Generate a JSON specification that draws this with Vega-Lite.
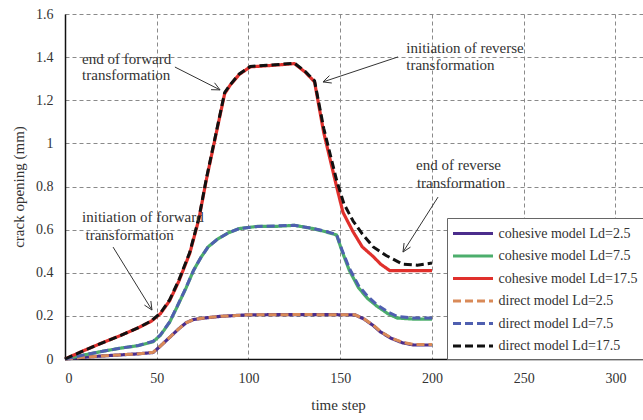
{
  "$schema": "https://vega.github.io/schema/vega-lite/v6.json",
  "width": 578,
  "height": 345,
  "autosize": "none",
  "padding": {"left": 65, "top": 14, "right": 0, "bottom": 61},
  "background": "white",
  "config": {
    "font": "Liberation Serif",
    "view": {"stroke": null},
    "axis": {
      "labelFont": "Liberation Serif",
      "titleFont": "Liberation Serif",
      "labelFontSize": 14,
      "titleFontSize": 15,
      "titleFontWeight": "normal",
      "labelColor": "#333",
      "titleColor": "#333",
      "gridColor": "#8a8a8a",
      "gridDash": [4, 3],
      "gridWidth": 1,
      "domainColor": "#111",
      "domainWidth": 1.5,
      "ticks": false
    },
    "legend": {
      "orient": "none",
      "legendX": 382,
      "legendY": 204,
      "fillColor": "white",
      "strokeColor": "#666",
      "padding": 6,
      "symbolType": "M-2.5,0H2.5",
      "symbolSize": 256,
      "symbolOffset": 10.5,
      "symbolStrokeWidth": 3,
      "labelOffset": 16,
      "labelFont": "Liberation Serif",
      "labelFontSize": 14,
      "labelColor": "#333",
      "labelLimit": 220,
      "rowPadding": 5.5
    }
  },
  "datasets": {
    "curves": [
      {"series": "cohesive model Ld=2.5", "t": 0, "v": 0},
      {"series": "cohesive model Ld=2.5", "t": 10, "v": 0.008},
      {"series": "cohesive model Ld=2.5", "t": 20, "v": 0.014},
      {"series": "cohesive model Ld=2.5", "t": 30, "v": 0.019},
      {"series": "cohesive model Ld=2.5", "t": 40, "v": 0.024},
      {"series": "cohesive model Ld=2.5", "t": 48, "v": 0.03},
      {"series": "cohesive model Ld=2.5", "t": 52, "v": 0.06},
      {"series": "cohesive model Ld=2.5", "t": 57, "v": 0.1},
      {"series": "cohesive model Ld=2.5", "t": 62, "v": 0.14},
      {"series": "cohesive model Ld=2.5", "t": 66, "v": 0.168},
      {"series": "cohesive model Ld=2.5", "t": 70, "v": 0.183},
      {"series": "cohesive model Ld=2.5", "t": 76, "v": 0.19},
      {"series": "cohesive model Ld=2.5", "t": 85, "v": 0.198},
      {"series": "cohesive model Ld=2.5", "t": 100, "v": 0.205},
      {"series": "cohesive model Ld=2.5", "t": 130, "v": 0.206},
      {"series": "cohesive model Ld=2.5", "t": 158, "v": 0.205},
      {"series": "cohesive model Ld=2.5", "t": 163, "v": 0.185},
      {"series": "cohesive model Ld=2.5", "t": 168, "v": 0.155},
      {"series": "cohesive model Ld=2.5", "t": 172, "v": 0.125},
      {"series": "cohesive model Ld=2.5", "t": 178, "v": 0.095},
      {"series": "cohesive model Ld=2.5", "t": 184, "v": 0.075},
      {"series": "cohesive model Ld=2.5", "t": 190, "v": 0.065},
      {"series": "cohesive model Ld=2.5", "t": 200, "v": 0.065},

      {"series": "cohesive model Ld=7.5", "t": 0, "v": 0},
      {"series": "cohesive model Ld=7.5", "t": 10, "v": 0.018},
      {"series": "cohesive model Ld=7.5", "t": 20, "v": 0.035},
      {"series": "cohesive model Ld=7.5", "t": 30, "v": 0.05},
      {"series": "cohesive model Ld=7.5", "t": 40, "v": 0.062},
      {"series": "cohesive model Ld=7.5", "t": 48, "v": 0.08},
      {"series": "cohesive model Ld=7.5", "t": 52, "v": 0.11},
      {"series": "cohesive model Ld=7.5", "t": 57, "v": 0.17},
      {"series": "cohesive model Ld=7.5", "t": 61, "v": 0.24},
      {"series": "cohesive model Ld=7.5", "t": 66, "v": 0.33},
      {"series": "cohesive model Ld=7.5", "t": 70, "v": 0.41},
      {"series": "cohesive model Ld=7.5", "t": 74, "v": 0.47},
      {"series": "cohesive model Ld=7.5", "t": 78, "v": 0.52},
      {"series": "cohesive model Ld=7.5", "t": 83, "v": 0.555},
      {"series": "cohesive model Ld=7.5", "t": 89, "v": 0.585},
      {"series": "cohesive model Ld=7.5", "t": 95, "v": 0.605},
      {"series": "cohesive model Ld=7.5", "t": 105, "v": 0.615},
      {"series": "cohesive model Ld=7.5", "t": 115, "v": 0.615},
      {"series": "cohesive model Ld=7.5", "t": 125, "v": 0.62},
      {"series": "cohesive model Ld=7.5", "t": 135, "v": 0.605},
      {"series": "cohesive model Ld=7.5", "t": 142, "v": 0.59},
      {"series": "cohesive model Ld=7.5", "t": 148, "v": 0.575},
      {"series": "cohesive model Ld=7.5", "t": 151, "v": 0.5},
      {"series": "cohesive model Ld=7.5", "t": 155, "v": 0.41},
      {"series": "cohesive model Ld=7.5", "t": 160, "v": 0.33},
      {"series": "cohesive model Ld=7.5", "t": 165, "v": 0.28},
      {"series": "cohesive model Ld=7.5", "t": 170, "v": 0.245},
      {"series": "cohesive model Ld=7.5", "t": 176, "v": 0.21},
      {"series": "cohesive model Ld=7.5", "t": 181, "v": 0.19},
      {"series": "cohesive model Ld=7.5", "t": 190, "v": 0.185},
      {"series": "cohesive model Ld=7.5", "t": 200, "v": 0.185},

      {"series": "cohesive model Ld=17.5", "t": 0, "v": 0},
      {"series": "cohesive model Ld=17.5", "t": 10, "v": 0.038},
      {"series": "cohesive model Ld=17.5", "t": 20, "v": 0.074},
      {"series": "cohesive model Ld=17.5", "t": 30, "v": 0.108},
      {"series": "cohesive model Ld=17.5", "t": 40, "v": 0.145},
      {"series": "cohesive model Ld=17.5", "t": 47, "v": 0.175},
      {"series": "cohesive model Ld=17.5", "t": 52, "v": 0.21},
      {"series": "cohesive model Ld=17.5", "t": 57, "v": 0.27},
      {"series": "cohesive model Ld=17.5", "t": 62, "v": 0.36},
      {"series": "cohesive model Ld=17.5", "t": 68, "v": 0.49},
      {"series": "cohesive model Ld=17.5", "t": 73, "v": 0.65},
      {"series": "cohesive model Ld=17.5", "t": 77, "v": 0.83},
      {"series": "cohesive model Ld=17.5", "t": 82, "v": 1.03},
      {"series": "cohesive model Ld=17.5", "t": 87, "v": 1.23},
      {"series": "cohesive model Ld=17.5", "t": 90, "v": 1.27},
      {"series": "cohesive model Ld=17.5", "t": 95, "v": 1.32},
      {"series": "cohesive model Ld=17.5", "t": 101, "v": 1.355},
      {"series": "cohesive model Ld=17.5", "t": 110, "v": 1.36},
      {"series": "cohesive model Ld=17.5", "t": 118, "v": 1.365},
      {"series": "cohesive model Ld=17.5", "t": 125, "v": 1.37},
      {"series": "cohesive model Ld=17.5", "t": 131, "v": 1.33},
      {"series": "cohesive model Ld=17.5", "t": 136, "v": 1.285},
      {"series": "cohesive model Ld=17.5", "t": 141, "v": 1.05},
      {"series": "cohesive model Ld=17.5", "t": 148, "v": 0.8},
      {"series": "cohesive model Ld=17.5", "t": 151.5, "v": 0.68},
      {"series": "cohesive model Ld=17.5", "t": 157, "v": 0.59},
      {"series": "cohesive model Ld=17.5", "t": 162, "v": 0.52},
      {"series": "cohesive model Ld=17.5", "t": 168, "v": 0.475},
      {"series": "cohesive model Ld=17.5", "t": 172, "v": 0.44},
      {"series": "cohesive model Ld=17.5", "t": 177, "v": 0.41},
      {"series": "cohesive model Ld=17.5", "t": 200, "v": 0.41},

      {"series": "direct model Ld=2.5", "t": 0, "v": 0},
      {"series": "direct model Ld=2.5", "t": 10, "v": 0.008},
      {"series": "direct model Ld=2.5", "t": 20, "v": 0.014},
      {"series": "direct model Ld=2.5", "t": 30, "v": 0.019},
      {"series": "direct model Ld=2.5", "t": 40, "v": 0.024},
      {"series": "direct model Ld=2.5", "t": 48, "v": 0.031},
      {"series": "direct model Ld=2.5", "t": 52, "v": 0.06},
      {"series": "direct model Ld=2.5", "t": 57, "v": 0.1},
      {"series": "direct model Ld=2.5", "t": 62, "v": 0.14},
      {"series": "direct model Ld=2.5", "t": 66, "v": 0.168},
      {"series": "direct model Ld=2.5", "t": 70, "v": 0.183},
      {"series": "direct model Ld=2.5", "t": 76, "v": 0.19},
      {"series": "direct model Ld=2.5", "t": 85, "v": 0.198},
      {"series": "direct model Ld=2.5", "t": 100, "v": 0.205},
      {"series": "direct model Ld=2.5", "t": 130, "v": 0.206},
      {"series": "direct model Ld=2.5", "t": 158, "v": 0.205},
      {"series": "direct model Ld=2.5", "t": 163, "v": 0.186},
      {"series": "direct model Ld=2.5", "t": 168, "v": 0.157},
      {"series": "direct model Ld=2.5", "t": 172, "v": 0.127},
      {"series": "direct model Ld=2.5", "t": 178, "v": 0.097},
      {"series": "direct model Ld=2.5", "t": 184, "v": 0.077},
      {"series": "direct model Ld=2.5", "t": 190, "v": 0.067},
      {"series": "direct model Ld=2.5", "t": 200, "v": 0.067},

      {"series": "direct model Ld=7.5", "t": 0, "v": 0},
      {"series": "direct model Ld=7.5", "t": 10, "v": 0.018},
      {"series": "direct model Ld=7.5", "t": 20, "v": 0.035},
      {"series": "direct model Ld=7.5", "t": 30, "v": 0.05},
      {"series": "direct model Ld=7.5", "t": 40, "v": 0.063},
      {"series": "direct model Ld=7.5", "t": 48, "v": 0.082},
      {"series": "direct model Ld=7.5", "t": 52, "v": 0.112},
      {"series": "direct model Ld=7.5", "t": 57, "v": 0.172},
      {"series": "direct model Ld=7.5", "t": 61, "v": 0.242},
      {"series": "direct model Ld=7.5", "t": 66, "v": 0.332},
      {"series": "direct model Ld=7.5", "t": 70, "v": 0.41},
      {"series": "direct model Ld=7.5", "t": 74, "v": 0.47},
      {"series": "direct model Ld=7.5", "t": 78, "v": 0.52},
      {"series": "direct model Ld=7.5", "t": 83, "v": 0.555},
      {"series": "direct model Ld=7.5", "t": 89, "v": 0.585},
      {"series": "direct model Ld=7.5", "t": 95, "v": 0.605},
      {"series": "direct model Ld=7.5", "t": 105, "v": 0.615},
      {"series": "direct model Ld=7.5", "t": 115, "v": 0.617},
      {"series": "direct model Ld=7.5", "t": 125, "v": 0.62},
      {"series": "direct model Ld=7.5", "t": 135, "v": 0.606},
      {"series": "direct model Ld=7.5", "t": 142, "v": 0.592},
      {"series": "direct model Ld=7.5", "t": 148, "v": 0.578},
      {"series": "direct model Ld=7.5", "t": 151, "v": 0.505},
      {"series": "direct model Ld=7.5", "t": 155, "v": 0.42},
      {"series": "direct model Ld=7.5", "t": 160, "v": 0.34},
      {"series": "direct model Ld=7.5", "t": 165, "v": 0.29},
      {"series": "direct model Ld=7.5", "t": 170, "v": 0.252},
      {"series": "direct model Ld=7.5", "t": 176, "v": 0.218},
      {"series": "direct model Ld=7.5", "t": 181, "v": 0.198},
      {"series": "direct model Ld=7.5", "t": 190, "v": 0.19},
      {"series": "direct model Ld=7.5", "t": 200, "v": 0.19},

      {"series": "direct model Ld=17.5", "t": 0, "v": 0},
      {"series": "direct model Ld=17.5", "t": 10, "v": 0.038},
      {"series": "direct model Ld=17.5", "t": 20, "v": 0.074},
      {"series": "direct model Ld=17.5", "t": 30, "v": 0.108},
      {"series": "direct model Ld=17.5", "t": 40, "v": 0.145},
      {"series": "direct model Ld=17.5", "t": 47, "v": 0.177},
      {"series": "direct model Ld=17.5", "t": 52, "v": 0.213},
      {"series": "direct model Ld=17.5", "t": 57, "v": 0.274},
      {"series": "direct model Ld=17.5", "t": 62, "v": 0.365},
      {"series": "direct model Ld=17.5", "t": 68, "v": 0.495},
      {"series": "direct model Ld=17.5", "t": 73, "v": 0.655},
      {"series": "direct model Ld=17.5", "t": 77, "v": 0.835},
      {"series": "direct model Ld=17.5", "t": 82, "v": 1.035},
      {"series": "direct model Ld=17.5", "t": 87, "v": 1.235},
      {"series": "direct model Ld=17.5", "t": 90, "v": 1.272},
      {"series": "direct model Ld=17.5", "t": 95, "v": 1.322},
      {"series": "direct model Ld=17.5", "t": 101, "v": 1.357},
      {"series": "direct model Ld=17.5", "t": 110, "v": 1.362},
      {"series": "direct model Ld=17.5", "t": 118, "v": 1.367},
      {"series": "direct model Ld=17.5", "t": 125, "v": 1.372},
      {"series": "direct model Ld=17.5", "t": 131, "v": 1.333},
      {"series": "direct model Ld=17.5", "t": 136, "v": 1.29},
      {"series": "direct model Ld=17.5", "t": 141, "v": 1.07},
      {"series": "direct model Ld=17.5", "t": 148, "v": 0.83},
      {"series": "direct model Ld=17.5", "t": 152, "v": 0.72},
      {"series": "direct model Ld=17.5", "t": 157, "v": 0.64},
      {"series": "direct model Ld=17.5", "t": 162, "v": 0.58},
      {"series": "direct model Ld=17.5", "t": 168, "v": 0.52},
      {"series": "direct model Ld=17.5", "t": 175, "v": 0.48},
      {"series": "direct model Ld=17.5", "t": 184, "v": 0.44},
      {"series": "direct model Ld=17.5", "t": 192, "v": 0.435},
      {"series": "direct model Ld=17.5", "t": 200, "v": 0.445}
    ],
    "notes": [
      {"t": 9.3, "v": 1.391, "label": "end of forward"},
      {"t": 9.3, "v": 1.317, "label": "transformation"},
      {"t": 186, "v": 1.443, "label": "initiation of reverse"},
      {"t": 186, "v": 1.364, "label": "transformation"},
      {"t": 191.3, "v": 0.9, "label": "end of reverse"},
      {"t": 191.8, "v": 0.816, "label": "transformation"},
      {"t": 9.3, "v": 0.659, "label": "initiation of forward"},
      {"t": 11.2, "v": 0.575, "label": "transformation"}
    ],
    "arrows": [
      {"t": 59.9, "v": 1.354, "t2": 84.5, "v2": 1.248},
      {"t": 81.5, "v": 1.281, "t2": 84.5, "v2": 1.248},
      {"t": 79.6, "v": 1.249, "t2": 84.5, "v2": 1.248},
      {"t": 181.5, "v": 1.401, "t2": 140.6, "v2": 1.285},
      {"t": 145.4, "v": 1.28, "t2": 140.6, "v2": 1.285},
      {"t": 144.1, "v": 1.314, "t2": 140.6, "v2": 1.285},
      {"t": 203.3, "v": 0.751, "t2": 184.2, "v2": 0.496},
      {"t": 188.3, "v": 0.519, "t2": 184.2, "v2": 0.496},
      {"t": 184.8, "v": 0.538, "t2": 184.2, "v2": 0.496},
      {"t": 26.2, "v": 0.519, "t2": 47.4, "v2": 0.227},
      {"t": 46.8, "v": 0.269, "t2": 47.4, "v2": 0.227},
      {"t": 43.3, "v": 0.25, "t2": 47.4, "v2": 0.227}
    ]
  },
  "encoding": {
    "x": {
      "field": "t",
      "type": "quantitative",
      "scale": {"domain": [0, 315], "nice": false, "zero": false},
      "axis": {
        "values": [0, 50, 100, 150, 200, 250, 300],
        "title": "time step",
        "labelPadding": 12,
        "titlePadding": 12,
        "titleX": 273
      }
    },
    "y": {
      "field": "v",
      "type": "quantitative",
      "scale": {"domain": [0, 1.6], "nice": false},
      "axis": {
        "values": [0, 0.2, 0.4, 0.6, 0.8, 1, 1.2, 1.4, 1.6],
        "format": "~g",
        "title": "crack opening (mm)",
        "labelPadding": 12,
        "titlePadding": 9
      }
    }
  },
  "layer": [
    {
      "data": {"name": "curves"},
      "transform": [{"filter": "indexof(datum.series, 'cohesive') === 0"}],
      "mark": {"type": "line", "strokeWidth": 3.2, "strokeJoin": "round"},
      "encoding": {
        "color": {
          "field": "series",
          "type": "nominal",
          "scale": {
            "domain": ["cohesive model Ld=2.5", "cohesive model Ld=7.5", "cohesive model Ld=17.5", "direct model Ld=2.5", "direct model Ld=7.5", "direct model Ld=17.5"],
            "range": ["#4b2d8c", "#4cae6c", "#e0302c", "#d98a58", "#4f5fb0", "#111111"]
          },
          "legend": {"title": null}
        },
        "strokeDash": {
          "field": "series",
          "type": "nominal",
          "scale": {
            "domain": ["cohesive model Ld=2.5", "cohesive model Ld=7.5", "cohesive model Ld=17.5", "direct model Ld=2.5", "direct model Ld=7.5", "direct model Ld=17.5"],
            "range": [[1, 0], [1, 0], [1, 0], [8, 4], [8, 4], [8, 4]]
          },
          "legend": {"title": null}
        }
      }
    },
    {
      "data": {"name": "curves"},
      "transform": [{"filter": "indexof(datum.series, 'direct') === 0"}],
      "mark": {"type": "line", "strokeWidth": 3},
      "encoding": {
        "color": {"field": "series", "type": "nominal", "legend": {"title": null}},
        "strokeDash": {"field": "series", "type": "nominal", "legend": {"title": null}}
      }
    },
    {
      "data": {"values": [{"v": 1.6}]},
      "mark": {"type": "rule", "color": "#111", "strokeWidth": 1.5},
      "encoding": {"y": {"field": "v", "type": "quantitative"}}
    },
    {
      "data": {"name": "arrows"},
      "mark": {"type": "rule", "color": "#333", "strokeWidth": 1},
      "encoding": {
        "x2": {"field": "t2"},
        "y2": {"field": "v2"}
      }
    },
    {
      "data": {"name": "notes"},
      "mark": {"type": "text", "align": "left", "baseline": "middle", "font": "Liberation Serif", "fontSize": 15, "color": "#333"},
      "encoding": {"text": {"field": "label"}}
    }
  ]
}
